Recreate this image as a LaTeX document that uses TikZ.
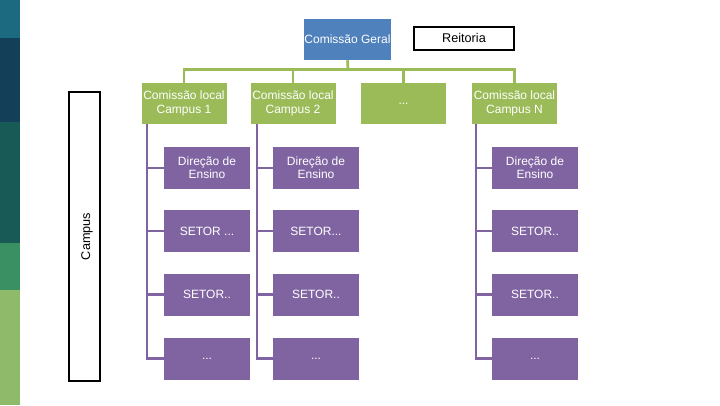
\documentclass[tikz,border=0pt]{standalone}
\usepackage{fontspec}
\setmainfont{Liberation Sans}
\definecolor{gblue}{HTML}{4F81BD}
\definecolor{ggreen}{HTML}{9BBB59}
\definecolor{gpurp}{HTML}{8064A2}
\begin{document}
\begin{tikzpicture}[x=0.75pt,y=-0.75pt,
  bx/.style={draw=none,minimum width=#1*0.75pt,inner sep=0pt,align=center,font=\fontsize{9}{10}\selectfont,text=white},
  grn/.style={bx=85,minimum height=41*0.75pt,fill=ggreen},
  pur/.style={bx=86,minimum height=42*0.75pt,fill=gpurp},
  gl/.style={ggreen,line width=2pt},
  pl/.style={gpurp,line width=2pt}]
\useasboundingbox (0,0) rectangle (720,405);
\fill[white] (0,0) rectangle (720,405);
\fill[fill={rgb,255:red,27;green,106;blue,128}] (0,0) rectangle (20,38);
\fill[fill={rgb,255:red,19;green,64;blue,88}] (0,38) rectangle (20,122);
\fill[fill={rgb,255:red,23;green,90;blue,86}] (0,122) rectangle (20,243);
\fill[fill={rgb,255:red,58;green,144;blue,98}] (0,243) rectangle (20,290);
\fill[fill={rgb,255:red,143;green,186;blue,106}] (0,290) rectangle (20,405);
\node[draw=black,line width=2.2pt,minimum width=31*0.75pt,minimum height=289*0.75pt,inner sep=0pt] (campus) at (84.5,236.5) {};
\node[rotate=90,font=\fontsize{9.5}{10}\selectfont] (campust) at (87,236.5) {Campus};
\node[bx=85,minimum height=41*0.75pt,fill=gblue] (geral) at (347.5,39.5) {Comissão Geral};
\node[draw=black,line width=1.5pt,minimum width=100*0.75pt,minimum height=23*0.75pt,inner sep=0pt,font=\fontsize{9.5}{10}\selectfont] (reit) at (464,38) {Reitoria};
\node[grn] (c1) at (184,103.5) {Comissão local\\Campus 1};
\node[grn] (c2) at (293,103.5) {Comissão local\\Campus 2};
\node[grn] (c3) at (403.5,103.5) {...};
\node[grn] (c4) at (514.5,103.5) {Comissão local\\Campus N};
\coordinate (bar) at (348,70);
\draw[gl] (geral.south) -- (bar);
\draw[gl] (c1.north) -- ++(0,-13) -| (c4.north);
\draw[gl] (c2.north) -- ++(0,-13);
\draw[gl] (c3.north) -- ++(0,-13);
\foreach \col/\x/\lx/\sa in {a/207/147/{SETOR ...},b/316/257/{SETOR...},c/535/476/{SETOR..}}{
  \node[pur] (\col1) at (\x,168) {Direção de\\Ensino};
  \node[pur] (\col2) at (\x,231) {\sa};
  \node[pur] (\col3) at (\x,294.5) {SETOR..};
  \node[pur] (\col4) at (\x,358.5) {...};
  \coordinate (\col top) at (\lx,124);
  \draw[pl] (\col top) |- (\col4.west);
  \foreach \i in {1,2,3}{\draw[pl] (\col\i.west) -- (\col\i.west -| \col top);}
}
\end{tikzpicture}
\end{document}
